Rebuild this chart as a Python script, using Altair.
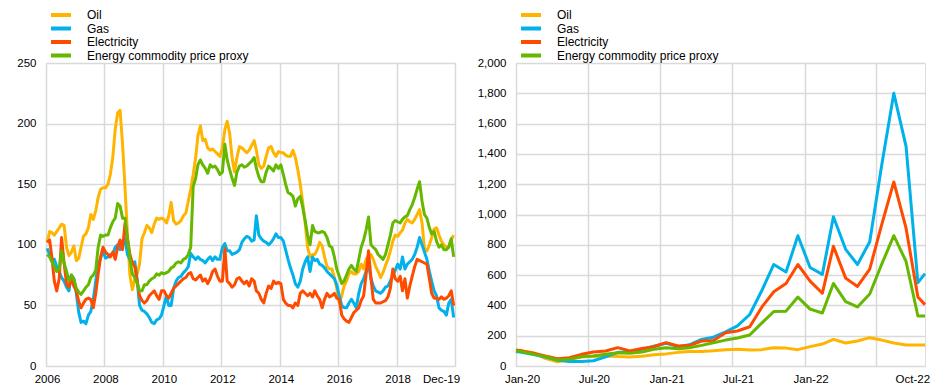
import altair as alt
import pandas as pd

FONT = "Liberation Sans, Arial, sans-serif"
SERIES = ["Oil", "Gas", "Electricity", "Energy commodity price proxy"]
COLORS = ["#FFB400", "#00B1EA", "#FF4B00", "#65B800"]

# ---------------- left panel: monthly, Jan 2006 - Dec 2019 ----------------
left_years = list(range(2006, 2020))
left_oil = [
    102, 111, 110, 108, 111, 114, 117, 116, 98, 91, 94, 99,      # 2006
    87, 89, 98, 107, 109, 114, 125, 121, 128, 139, 146, 147,     # 2007
    147, 150, 158, 172, 195, 209, 211, 183, 147, 109, 75, 63,    # 2008
    72, 76, 84, 105, 110, 116, 114, 110, 117, 122, 121, 122,     # 2009
    121, 118, 124, 135, 120, 117, 118, 120, 124, 126, 136, 146,  # 2010
    158, 172, 190, 198, 186, 187, 180, 178, 179, 177, 175, 173,  # 2011
    180, 195, 202, 192, 172, 160, 172, 181, 180, 178, 176, 178,  # 2012
    182, 186, 178, 166, 163, 165, 173, 180, 181, 176, 173, 177,  # 2013
    176, 176, 174, 173, 173, 178, 172, 162, 150, 135, 118, 98,   # 2014
    90, 92, 92, 96, 102, 99, 90, 82, 80, 80, 73, 64,             # 2015
    52, 58, 66, 70, 76, 78, 76, 76, 78, 84, 80, 88,              # 2016
    91, 92, 88, 82, 78, 73, 77, 83, 88, 95, 103, 108,            # 2017
    107, 110, 112, 118, 121, 119, 118, 121, 125, 129, 118, 97,   # 2018
    95, 100, 106, 113, 114, 108, 103, 100, 98, 99, 104, 108,     # 2019
]
left_gas = [
    97, 92, 88, 88, 82, 78, 73, 70, 65, 62, 75, 72,
    60, 44, 36, 37, 35, 42, 45, 55, 70, 84, 89, 95,
    89, 90, 92, 92, 98, 100, 96, 100, 105, 92, 88, 85,
    86, 70, 50, 46, 45, 43, 40, 36, 35, 38, 39, 42,
    50, 58, 50, 50, 64, 70, 73, 74, 77, 79, 82, 93,
    90, 88, 90, 88, 87, 85, 88, 90, 87, 90, 88, 88,
    98, 101, 95, 95, 92, 93, 94, 96, 102, 105, 107, 106,
    103, 104, 124, 108, 105, 103, 102, 100, 102, 105, 109, 106,
    106, 103, 96, 88, 81, 75, 68, 65, 70, 80, 86, 90,
    78, 90, 87, 88, 84, 83, 81, 78, 76, 74, 72, 67,
    58, 50, 48, 48, 52, 55, 52, 48, 60, 68, 72, 78,
    84, 72, 66, 62, 61, 60, 62, 65, 66, 70, 75, 79,
    84, 80, 90, 80, 84, 86, 88, 92, 98, 106, 100, 94,
    88, 78, 70, 62, 58, 48, 46, 45, 42, 52, 55, 40,
]
left_elec = [
    102, 104, 90, 70, 62, 72, 106, 85, 68, 65, 73, 66,
    62, 53, 48, 52, 55, 56, 55, 48, 60, 76, 90, 98,
    94, 92, 90, 94, 88, 98, 104, 96, 118, 105, 92, 85,
    82, 70, 58, 54, 52, 54, 58, 60, 62, 58, 55, 62,
    62, 58, 56, 60, 64, 66, 68, 70, 72, 73, 76, 77,
    72, 71, 73, 75, 70, 72, 68, 72, 78, 80, 74, 70,
    70, 97, 70, 68, 65, 67, 72, 73, 70, 68, 70, 66,
    72, 70, 62, 60, 55, 52, 60, 66, 64, 70, 68, 69,
    68, 55, 52, 50, 50, 48, 52, 50, 60, 62, 60, 58,
    60, 57, 62, 58, 55, 48, 55, 60, 57, 58, 60, 56,
    55, 42, 39, 37, 36, 40, 44, 46, 48, 54, 58, 75,
    95, 72, 55, 52, 52, 52, 53, 54, 57, 64, 80, 72,
    70, 74, 62, 72, 56, 66, 74, 82, 88, 87, 86, 85,
    84, 72, 60, 56, 56, 55, 57, 55, 56, 58, 62, 50,
]
left_energy = [
    92, 90, 86, 82, 78, 80, 95, 85, 78, 70, 75, 72,
    64, 61, 59, 62, 65, 67, 73, 75, 79, 98, 108, 107,
    108, 108, 114, 119, 122, 134, 132, 122, 122, 105, 89, 76,
    73, 68, 62, 62, 67, 67, 70, 72, 73, 76, 75, 77,
    76, 77, 78, 81, 82, 85, 86, 85, 88, 89, 92, 98,
    148, 155, 166, 170, 166, 163, 159, 166, 164, 165, 162, 158,
    160, 183, 170, 162, 155, 149, 160, 165, 166, 164, 165, 167,
    169, 172, 163, 156, 152, 152, 160, 165, 163, 161, 166, 163,
    166, 158, 150, 143, 142, 140, 132, 138, 140, 131, 120, 108,
    100, 116, 111, 110, 110, 111, 110, 106, 99, 98, 90, 80,
    74, 68, 70, 75, 80, 83, 80, 78, 88, 98, 104, 112,
    123, 100, 98, 96, 92, 90, 88, 92, 100, 108, 118, 120,
    119, 118, 121, 123, 124, 129, 133, 139, 146, 152, 136, 125,
    122, 114, 109, 111, 103, 98, 100, 96, 96, 98, 105, 90,
]
left_dates = [f"{y}-{m:02d}-15" for y in left_years for m in range(1, 13)]
left_tick_years = [2006, 2008, 2010, 2012, 2014, 2016, 2018, 2020]
left_y_ticks = [0, 50, 100, 150, 200, 250]

# ---------------- right panel: Jan 2020 - early Nov 2022 ----------------
right_months = [(y, m) for y in (2020, 2021, 2022) for m in range(1, 13)][:34]
right_dates = ["2020-01-01"] + [f"{y}-{m:02d}-15" for y, m in right_months] + ["2022-11-02"]
right_oil = [100, 100, 86, 50, 28, 45, 60, 64, 66, 62, 60, 64, 74,
             80, 90, 95, 95, 100, 108, 110, 105, 108, 121, 118, 108,
             128, 145, 176, 152, 165, 187, 171, 152, 138, 138, 138]
right_gas = [95, 90, 75, 60, 38, 30, 30, 35, 60, 90, 92, 110, 130,
             150, 128, 140, 175, 190, 225, 265, 340, 500, 670, 620, 860,
             650, 605, 985, 770, 670, 820, 1320, 1800, 1450, 550, 610]
right_elec = [105, 100, 85, 66, 48, 55, 77, 92, 99, 121, 99, 116, 127,
              154, 132, 135, 165, 168, 220, 231, 259, 390, 490, 545, 670,
              560, 480, 790, 580, 525, 640, 930, 1215, 910, 455, 405]
right_energy = [100, 95, 77, 62, 40, 44, 62, 66, 77, 88, 84, 92, 110,
                121, 114, 121, 136, 154, 171, 185, 205, 285, 360, 362, 455,
                375, 350, 545, 425, 390, 475, 670, 860, 690, 330, 330]
right_tick_dates = [(2020, 1), (2020, 7), (2021, 1), (2021, 7), (2022, 1), (2022, 7), (2022, 10)]
right_y_ticks = list(range(0, 2001, 200))


def long_frame(dates, columns):
    rows = []
    for name, vals in zip(SERIES, columns):
        assert len(vals) == len(dates), (name, len(vals), len(dates))
        for d, v in zip(dates, vals):
            rows.append({"date": d, "series": name, "value": v})
    return pd.DataFrame(rows)


left_df = long_frame(left_dates, [left_oil, left_gas, left_elec, left_energy])
right_df = long_frame(right_dates, [right_oil, right_gas, right_elec, right_energy])


def legend():
    return alt.Legend(
        title=None, orient="none", legendX=3, legendY=-54,
        symbolType="stroke", symbolStrokeWidth=4, symbolSize=400,
        clipHeight=12, rowPadding=1.5, padding=0,
        labelFont=FONT, labelFontSize=12, labelColor="#000000",
        labelOffset=14, labelLimit=400,
    )


def color_enc():
    return alt.Color("series:N", scale=alt.Scale(domain=SERIES, range=COLORS),
                     sort=SERIES, legend=legend())


AX = dict(title=None, domain=False, ticks=False, gridColor="#d9d9d9", gridWidth=1.5,
          labelFont=FONT, labelFontSize=11.5, labelColor="#000000")

W, H = 409, 303

left = alt.Chart(left_df).mark_line(strokeWidth=3, strokeJoin="round").encode(
    x=alt.X("date:T",
            scale=alt.Scale(type="utc", domain=[alt.DateTime(year=2006, month=1, date=1, utc=True),
                                                alt.DateTime(year=2020, month=1, date=1, utc=True)]),
            axis=alt.Axis(values=[alt.DateTime(year=y, month=1, date=1, utc=True) for y in left_tick_years],
                          labelExpr="utcyear(datum.value) >= 2020 ? 'Dec-19' : utcFormat(datum.value, '%Y')",
                          labelFlush=False, labelOverlap=False, labelPadding=7,
                          labelOffset={"condition": {"test": "utcyear(datum.value) >= 2020", "value": -14},
                                       "value": 1},
                          **AX)),
    y=alt.Y("value:Q", scale=alt.Scale(domain=[0, 250]),
            axis=alt.Axis(values=left_y_ticks, format="d", labelPadding=10, **AX)),
    color=color_enc(),
).properties(width=W, height=H)

right = alt.Chart(right_df).mark_line(strokeWidth=3, strokeJoin="round").encode(
    x=alt.X("date:T",
            scale=alt.Scale(type="utc", domain=[alt.DateTime(year=2020, month=1, date=1, utc=True),
                                                alt.DateTime(year=2022, month=11, date=2, utc=True)]),
            axis=alt.Axis(values=[alt.DateTime(year=y, month=m, date=1, utc=True) for y, m in right_tick_dates],
                          labelExpr="(utcyear(datum.value) == 2022 && utcmonth(datum.value) == 6) ? '' : utcFormat(datum.value, '%b-%y')",
                          labelFlush=False, labelOverlap=False, labelPadding=7,
                          labelOffset={"condition": {"test": "utcmonth(datum.value) == 9", "value": 0},
                                       "value": 6},
                          gridOpacity={"condition": {"test": "utcmonth(datum.value) == 9", "value": 0},
                                       "value": 1},
                          **AX)),
    y=alt.Y("value:Q", scale=alt.Scale(domain=[0, 2000]),
            axis=alt.Axis(values=right_y_ticks, format=",d", labelPadding=10, **AX)),
    color=color_enc(),
).properties(width=W, height=H)

chart = alt.hconcat(left, right, spacing=61, bounds="flush").resolve_scale(
    color="independent"
).properties(
    padding={"left": 8, "top": 0, "right": 0, "bottom": 0}
).configure_view(stroke=None).configure(font=FONT, background="white")

chart.save("out.html", embed_options={"renderer": "svg", "actions": False})
